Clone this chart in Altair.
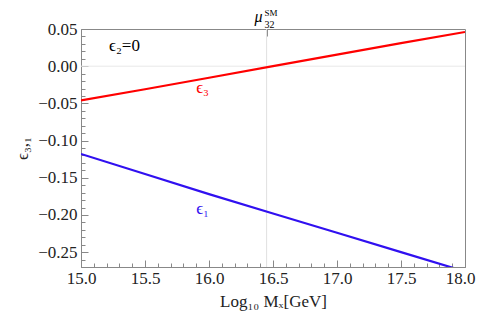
import altair as alt
import pandas as pd

# data
x_vals = [15.0, 15.5, 16.0, 16.5, 17.0, 17.5, 18.0]
eps3 = [-0.046, -0.031, -0.0155, 0.0, 0.0155, 0.031, 0.046]
eps1 = [-0.118, -0.145, -0.172, -0.198, -0.224, -0.250, -0.276]
mu32 = 16.45

x_major = [15.0, 15.5, 16.0, 16.5, 17.0, 17.5, 18.0]
x_minor = [round(15 + 0.1 * i, 2) for i in range(31)]
y_major = [-0.25, -0.20, -0.15, -0.10, -0.05, 0.00, 0.05]
y_minor = [round(-0.27 + 0.01 * i, 2) for i in range(33)]

FONT = "Liberation Serif, Times New Roman, DejaVu Serif, serif"
RED = "#ff0000"
BLUE = "#3010f0"
GRAY = "#888888"

df = pd.DataFrame({"x": x_vals * 2,
                   "y": eps3 + eps1,
                   "s": ["e3"] * len(x_vals) + ["e1"] * len(x_vals)})

xs = alt.Scale(domain=[15, 18], nice=False, zero=False)
ys = alt.Scale(domain=[-0.27, 0.05], nice=False, zero=False)

label_axis_x = alt.Axis(values=x_major, format=".1f", ticks=False, domain=False, grid=False,
                        labelFlush=False, labelOffset={"expr": "datum.value >= 18 ? -5 : 0"},
                        labelFont=FONT, labelFontSize=17, labelColor="#222", labelPadding=3,
                        title="Log₁₀ Mₓ[GeV]", titleFont=FONT, titleFontSize=17,
                        titleFontWeight="normal", titleColor="#222", titlePadding=7)
label_axis_y = alt.Axis(values=y_major, format=".2f", ticks=False, domain=False, grid=False,
                        labelFlush=False,
                        labelFont=FONT, labelFontSize=17, labelColor="#222", labelPadding=4,
                        title="ϵ₃,₁", titleFont=FONT, titleFontSize=17,
                        titleFontWeight="normal", titleColor="#222", titlePadding=6)

base = alt.Chart(df)

lines = base.mark_line(strokeWidth=2.2, clip=True).encode(
    x=alt.X("x:Q", scale=xs, axis=label_axis_x),
    y=alt.Y("y:Q", scale=ys, axis=label_axis_y),
    color=alt.Color("s:N", scale=alt.Scale(domain=["e3", "e1"], range=[RED, BLUE]), legend=None),
)

# gridlines
grid_df = pd.DataFrame({"gx": [mu32], "gy": [0.0]})
vgrid = alt.Chart(grid_df).mark_rule(color="#e0e0e0", strokeWidth=1).encode(
    x=alt.X("gx:Q", scale=xs, axis=None))
hgrid = alt.Chart(grid_df).mark_rule(color="#e8e8e8", strokeWidth=1).encode(
    y=alt.Y("gy:Q", scale=ys, axis=None))

# inward ticks via offset axes
def tick_x(vals, size, orient="bottom"):
    return alt.Chart(pd.DataFrame({"t": vals})).mark_point(opacity=0).encode(
        x=alt.X("t:Q", scale=xs, axis=alt.Axis(values=vals, orient=orient, labels=False, domain=False,
                                               grid=False, tickSize=size, offset=-size, tickColor=GRAY,
                                               tickWidth=1, title=None)))

def tick_y(vals, size):
    return alt.Chart(pd.DataFrame({"t": vals})).mark_point(opacity=0).encode(
        y=alt.Y("t:Q", scale=ys, axis=alt.Axis(values=vals, orient="left", labels=False, domain=False,
                                               grid=False, tickSize=size, offset=-size, tickColor=GRAY,
                                               tickWidth=1, title=None)))

tx_major = tick_x(x_major, 7)
tx_minor = tick_x(x_minor, 4)
ty_major = tick_y(y_major, 7)
ty_minor = tick_y(y_minor, 4)
tx_top = tick_x([mu32], 7, orient="top")

# text labels
lab_df = pd.DataFrame({
    "lx": [15.95, 15.95, 15.34],
    "ly": [-0.0296, -0.192, 0.0265],
    "txt": ["ϵ₃", "ϵ₁", "ϵ₂=0"],
    "col": [RED, BLUE, "#000000"],
})
labels = alt.Chart(lab_df).mark_text(font=FONT, fontSize=17, align="center", baseline="middle").encode(
    x=alt.X("lx:Q", scale=xs, axis=None),
    y=alt.Y("ly:Q", scale=ys, axis=None),
    text="txt:N",
    color=alt.Color("col:N", scale=None),
)

mu_df = pd.DataFrame({"mx": [mu32]})
mu = alt.Chart(mu_df).mark_text(font=FONT, fontSize=16, fontStyle="italic", align="right",
                                baseline="alphabetic", dx=-4).encode(
    x=alt.X("mx:Q", scale=xs, axis=None), y=alt.value(-7), text=alt.value("μ"))
mu_sup = alt.Chart(mu_df).mark_text(font=FONT, fontSize=9, align="left",
                                    baseline="alphabetic", dx=-2).encode(
    x=alt.X("mx:Q", scale=xs, axis=None), y=alt.value(-13), text=alt.value("SM"))
mu_sub = alt.Chart(mu_df).mark_text(font=FONT, fontSize=10, align="left",
                                    baseline="alphabetic", dx=-2).encode(
    x=alt.X("mx:Q", scale=xs, axis=None), y=alt.value(-1), text=alt.value("32"))

chart = alt.layer(
    vgrid, hgrid, lines, tx_minor, tx_major, ty_minor, ty_major, tx_top, labels, mu, mu_sup, mu_sub
).resolve_axis(x="independent", y="independent").properties(
    width=384, height=238,
    autosize=alt.AutoSizeParams(type="none"),
    padding={"left": 73, "top": 21, "right": 11, "bottom": 54},
).configure_view(stroke=GRAY, strokeWidth=1)

chart.save("out.html", embed_options={"renderer": "svg", "actions": False})
